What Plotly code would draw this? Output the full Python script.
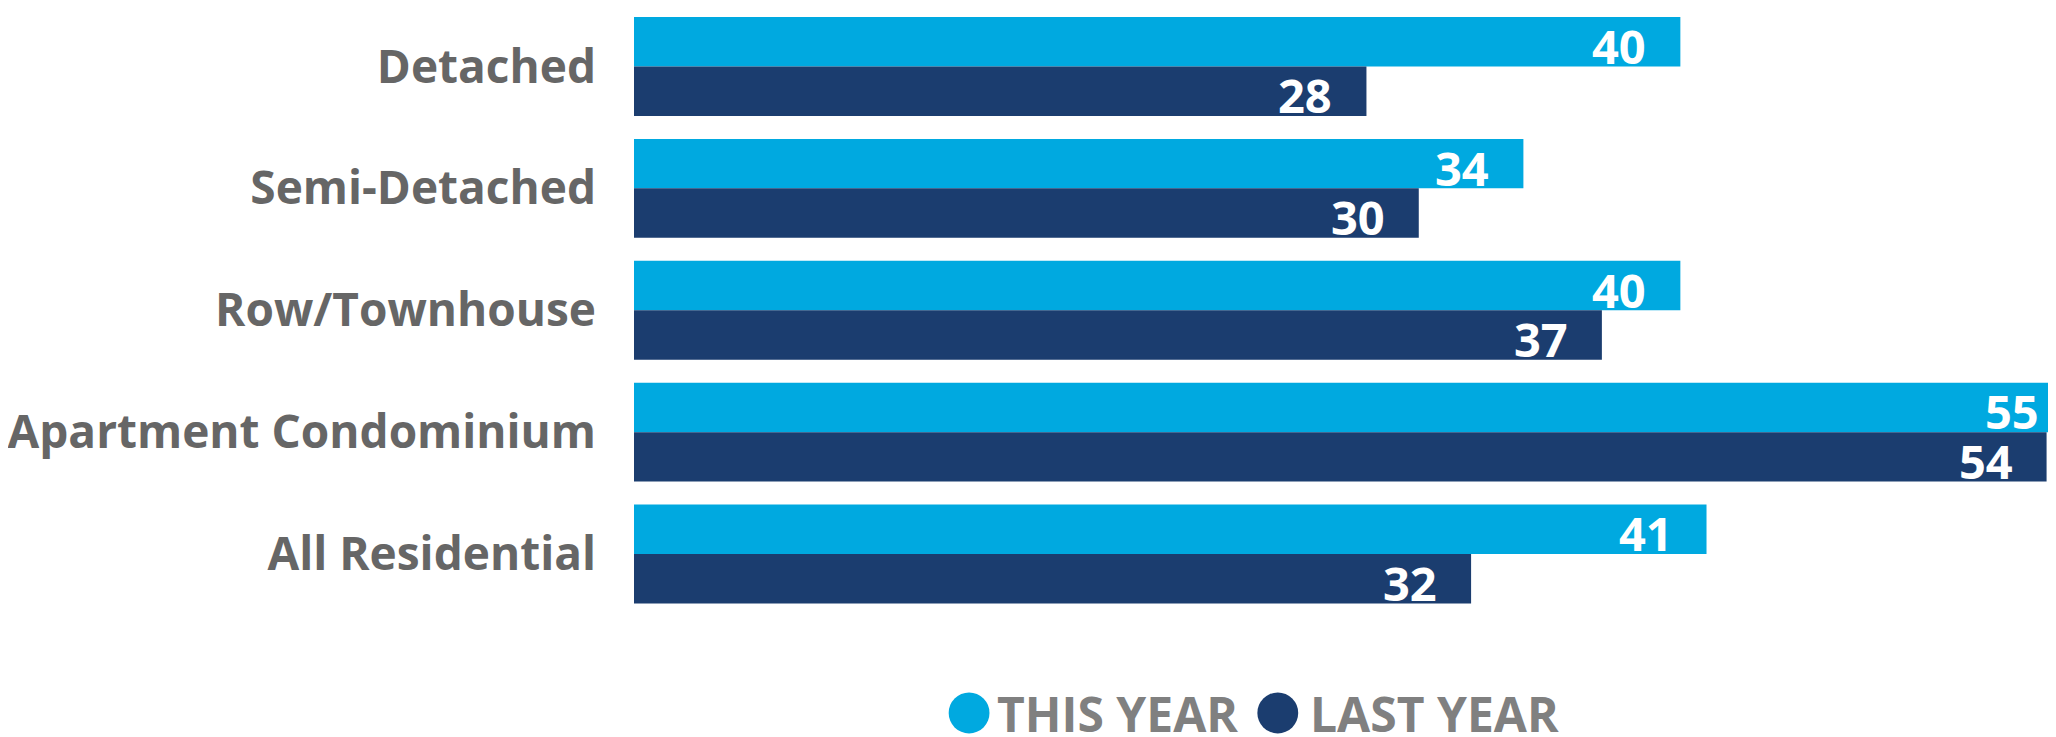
import plotly.graph_objects as go

# ---- data ----
categories = ["Detached", "Semi-Detached", "Row/Townhouse", "Apartment Condominium", "All Residential"]
this_year = [40, 34, 40, 55, 41]
last_year = [28, 30, 37, 54, 32]
series_names = ["THIS YEAR", "LAST YEAR"]

# ---- style / layout ----
colors = ["#00A9E0", "#1B3D6F"]
W, H = 2048, 729                 # page body has an 8px margin
ML, MR, MT = 620, 0, 0
BARGAP = 0.1885
X_MAX = 54.36
Y_TOP, Y_BOTTOM = -0.4795, 4.5
PX_PER_CAT = 122
PH = PX_PER_CAT * (Y_BOTTOM - Y_TOP)
MB = H - MT - PH
PW = W - ML - MR
FONT = "Open Sans"

fig = go.Figure()
series = [this_year, last_year]
for name, vals, col in zip(series_names, series, colors):
    fig.add_trace(go.Bar(
        y=categories, x=vals, name=name, orientation="h",
        marker=dict(color=col, line=dict(width=0)),
        showlegend=False, hoverinfo="skip", cliponaxis=True,
    ))

# value labels, anchored at each bar's end (x axis spans the full paper width from 0)
bar_w = (1 - BARGAP) / len(series)
for j, vals in enumerate(series):
    for i, v in enumerate(vals):
        fig.add_annotation(
            xref="paper", yref="y", x=v / X_MAX, y=i + (j - (len(series) - 1) / 2) * bar_w,
            text=str(v), showarrow=False, xanchor="right", yanchor="middle",
            xshift=-32, yshift=-4,
            font=dict(family=FONT, size=47, color="white", weight="bold"),
        )

fig.update_layout(
    width=W, height=H,
    margin=dict(l=ML, r=MR, t=MT, b=MB, pad=0),
    paper_bgcolor="white", plot_bgcolor="white",
    barmode="group", bargap=BARGAP, bargroupgap=0,
    showlegend=False,
    font=dict(family=FONT),
)
fig.update_xaxes(range=[0, X_MAX], visible=False, showgrid=False, zeroline=False)
fig.update_yaxes(
    type="category", categoryorder="array", categoryarray=categories,
    range=[Y_BOTTOM, Y_TOP],
    showgrid=False, zeroline=False, showline=False, ticks="",
    ticklabelstandoff=37,
    tickfont=dict(family=FONT, size=46, color="#666666", weight="bold"),
)

# ---- custom legend (large round swatches) ----
def px(x):
    return (x - ML) / PW

def py(y):
    return (H - MB - y) / PH

legend_items = [(936, 983), (1246, 1297)]
for (cx0, tx), name, col in zip(legend_items, series_names, colors):
    fig.add_shape(type="circle", xref="paper", yref="paper",
                  x0=px(cx0), x1=px(cx0 + 41), y0=py(726), y1=py(685),
                  fillcolor=col, line=dict(width=0))
    fig.add_annotation(xref="paper", yref="paper", x=px(tx), y=py(706),
                       xanchor="left", yanchor="middle", showarrow=False,
                       text=name, font=dict(family=FONT, size=48, color="#808080", weight="bold"))

fig.write_html("out.html")
